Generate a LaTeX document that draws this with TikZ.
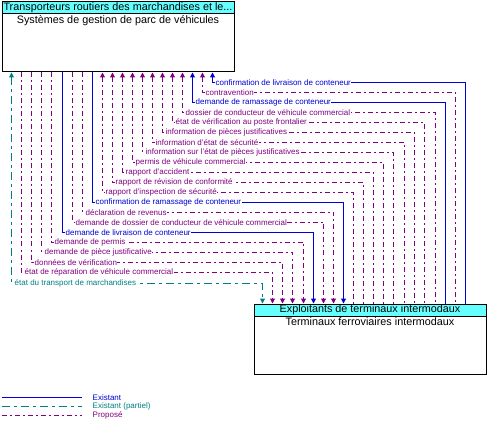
\documentclass[tikz,border=0pt]{standalone}
\usepackage{fontspec}
\setmainfont{Liberation Sans}
\usetikzlibrary{arrows.meta}
\definecolor{exblue}{RGB}{0,0,210}
\definecolor{prpurple}{RGB}{128,0,128}
\definecolor{exteal}{RGB}{0,128,128}
\definecolor{hdrcyan}{RGB}{102,255,255}
\tikzset{
  box/.style={draw=black, line width=1pt, minimum width=232pt, minimum height=70pt, inner sep=0pt},
  hdr/.style={draw=black, line width=1pt, fill=hdrcyan, minimum width=232pt, minimum height=12pt, inner sep=0pt, font=\fontsize{10.8}{12}\selectfont},
  boxtext/.style={inner sep=1pt, font=\fontsize{10.8}{12}\selectfont},
  existant/.style={color=exblue, line width=1pt},
  partiel/.style={color=exteal, line width=1pt, dash pattern=on 8pt off 4pt on 3pt off 4pt},
  propose/.style={color=prpurple, line width=1pt, dash pattern=on 5pt off 3pt on 2pt off 3pt},
  flowlabel/.style={anchor=west, fill=white, inner sep=0.5pt, xshift=2.5pt, font=\fontsize{8}{9}\selectfont},
  legendtext/.style={anchor=west, inner sep=0pt, font=\fontsize{8}{9}\selectfont},
  >={Triangle[width=5pt,length=5pt]}
}
\begin{document}
\begin{tikzpicture}[x=1pt,y=-1pt]
\useasboundingbox (0,0) rectangle (492,430);
\begin{scope}[xshift=0.5pt,yshift=-0.5pt]
% boites
\node[box, anchor=north west] (gestion) at (1,1) {};
\node[hdr, anchor=north west] (gestionhdr) at (gestion.north west) {Transporteurs routiers des marchandises et le...};
\node[boxtext, anchor=north] (gestiontxt) at (gestionhdr.south) {Systèmes de gestion de parc de véhicules};
\node[box, anchor=north west] (terminaux) at (253,303) {};
\node[hdr, anchor=north west] (terminauxhdr) at (terminaux.north west) {Exploitants de terminaux intermodaux};
\node[boxtext, anchor=north] (terminauxtxt) at (terminauxhdr.south) {Terminaux ferroviaires intermodaux};
% flux vers le haut
\draw[existant,<-] (212,0 |- gestion.south) |- (465,82) -- (465,0 |- terminaux.north);
\node[flowlabel, text=exblue] (f1) at (212,82) {confirmation de livraison de conteneur};
\draw[propose,<-] (202,0 |- gestion.south) |- (455,92) -- (455,0 |- terminaux.north);
\node[flowlabel, text=prpurple] (f2) at (202,92) {contravention};
\draw[existant,<-] (192,0 |- gestion.south) |- (445,102) -- (445,0 |- terminaux.north);
\node[flowlabel, text=exblue] (f3) at (192,102) {demande de ramassage de conteneur};
\draw[propose,<-] (182,0 |- gestion.south) |- (435,112) -- (435,0 |- terminaux.north);
\node[flowlabel, text=prpurple] (f4) at (182,112) {dossier de conducteur de véhicule commercial};
\draw[propose,<-] (172,0 |- gestion.south) |- (424,122) -- (424,0 |- terminaux.north);
\node[flowlabel, text=prpurple] (f5) at (172,122) {état de vérification au poste frontalier};
\draw[propose,<-] (162,0 |- gestion.south) |- (414,132) -- (414,0 |- terminaux.north);
\node[flowlabel, text=prpurple] (f6) at (162,132) {information de pièces justificatives};
\draw[propose,<-] (152,0 |- gestion.south) |- (404,142) -- (404,0 |- terminaux.north);
\node[flowlabel, text=prpurple] (f7) at (152,142) {information d'état de sécurité};
\draw[propose,<-] (142,0 |- gestion.south) |- (393,152) -- (393,0 |- terminaux.north);
\node[flowlabel, text=prpurple] (f8) at (142,152) {information sur l'état de pièces justificatives};
\draw[propose,<-] (132,0 |- gestion.south) |- (383,162) -- (383,0 |- terminaux.north);
\node[flowlabel, text=prpurple] (f9) at (132,162) {permis de véhicule commercial};
\draw[propose,<-] (122,0 |- gestion.south) |- (373,172) -- (373,0 |- terminaux.north);
\node[flowlabel, text=prpurple] (f10) at (122,172) {rapport d'accident};
\draw[propose,<-] (112,0 |- gestion.south) |- (363,182) -- (363,0 |- terminaux.north);
\node[flowlabel, text=prpurple] (f11) at (112,182) {rapport de révision de conformité};
\draw[propose,<-] (102,0 |- gestion.south) |- (353,192) -- (353,0 |- terminaux.north);
\node[flowlabel, text=prpurple] (f12) at (102,192) {rapport d'inspection de sécurité};
% flux vers le bas
\draw[existant,->] (92,0 |- gestion.south) |- (343,202) -- (343,0 |- terminaux.north);
\node[flowlabel, text=exblue] (f13) at (92,202) {confirmation de ramassage de conteneur};
\draw[propose,->] (82,0 |- gestion.south) |- (333,212) -- (333,0 |- terminaux.north);
\node[flowlabel, text=prpurple] (f14) at (82,212) {déclaration de revenus};
\draw[propose,->] (72,0 |- gestion.south) |- (323,222) -- (323,0 |- terminaux.north);
\node[flowlabel, text=prpurple] (f15) at (72,222) {demande de dossier de conducteur de véhicule commercial};
\draw[existant,->] (62,0 |- gestion.south) |- (313,232) -- (313,0 |- terminaux.north);
\node[flowlabel, text=exblue] (f16) at (62,232) {demande de livraison de conteneur};
\draw[propose,->] (51,0 |- gestion.south) |- (303,242) -- (303,0 |- terminaux.north);
\node[flowlabel, text=prpurple] (f17) at (51,242) {demande de permis};
\draw[propose,->] (41,0 |- gestion.south) |- (292,252) -- (292,0 |- terminaux.north);
\node[flowlabel, text=prpurple] (f18) at (41,252) {demande de pièce justificative};
\draw[propose,->] (31,0 |- gestion.south) |- (282,262) -- (282,0 |- terminaux.north);
\node[flowlabel, text=prpurple] (f19) at (31,262) {données de vérification};
\draw[propose,->] (21,0 |- gestion.south) |- (272,272) -- (272,0 |- terminaux.north);
\node[flowlabel, text=prpurple] (f20) at (21,272) {état de réparation de véhicule commercial};
\draw[partiel,<->] (11,0 |- gestion.south) |- (262,283) -- (262,0 |- terminaux.north);
\node[flowlabel, text=exteal] (f21) at (11,283) {état du transport de marchandises};
% legende
\coordinate (lg1) at (1,397); \coordinate (lg1e) at (81,397);
\coordinate (lg2) at (1,406); \coordinate (lg2e) at (81,406);
\coordinate (lg3) at (1,415); \coordinate (lg3e) at (81,415);
\draw[existant] (lg1) -- (lg1e);
\draw[partiel] (lg2) -- (lg2e);
\draw[propose] (lg3) -- (lg3e);
\node[legendtext, text=exblue] (lgt1) at (92,397) {Existant};
\node[legendtext, text=exteal] (lgt2) at (92,406) {Existant (partiel)};
\node[legendtext, text=prpurple] (lgt3) at (92,415) {Proposé};
\end{scope}
\end{tikzpicture}
\end{document}
